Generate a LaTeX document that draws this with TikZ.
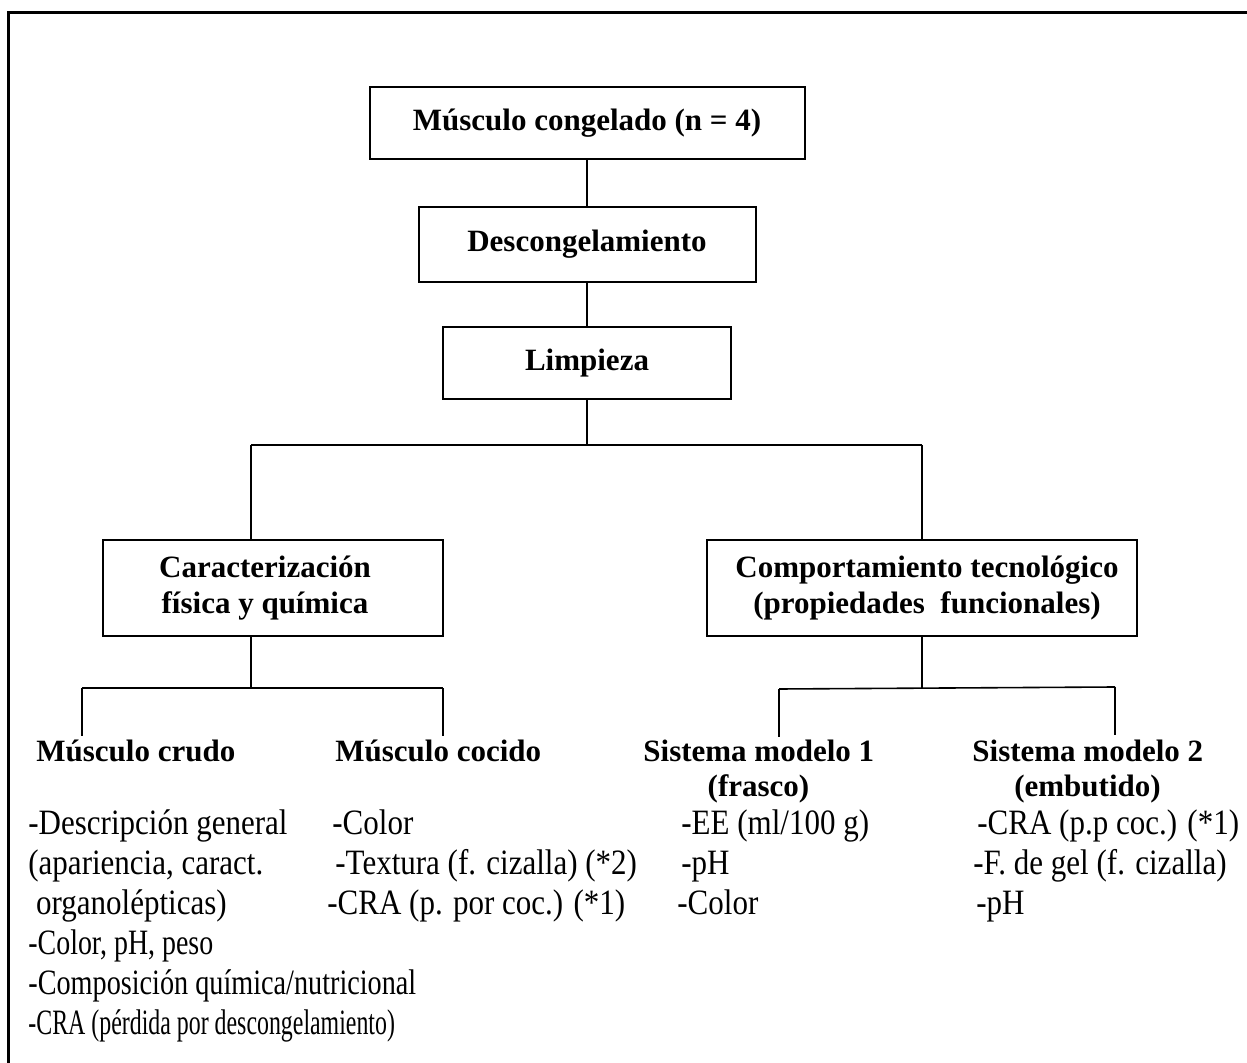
\documentclass[tikz,border=0pt]{standalone}
\usepackage{graphicx}
\usepackage{fontspec}
\setmainfont{Liberation Serif}
\newcommand{\bt}[2][1]{\scalebox{#1}[1.15]{#2}}
\begin{document}
\begin{tikzpicture}[x=0.5pt,y=-0.5pt,
  box/.style={draw, line width=1pt, inner sep=0pt, align=center,
    font=\fontsize{15.5pt}{18pt}\selectfont\bfseries},
  conn/.style={line width=0.8pt},
  head/.style={inner sep=0pt, anchor=base west, font=\fontsize{15.5pt}{18pt}\selectfont\bfseries},
  body/.style={inner sep=0pt, anchor=base west, font=\fontsize{15.5pt}{18pt}\selectfont}]
\useasboundingbox (0,0) rectangle (1247,1063);
% frame
\draw[line width=1.5pt] (1247,13) -- (8,13) -- (8,1063);
% boxes
\node[box, minimum width=217.5pt, minimum height=36pt] (b1) at (587,123) {Músculo congelado (n = 4)};
\node[box, minimum width=168.5pt, minimum height=37.5pt] (b2) at (587,244.5) {Descongelamiento};
\node[box, minimum width=144pt, minimum height=36pt] (b3) at (587,363) {Limpieza};
\node[box, minimum width=170pt, minimum height=48pt] (bL) at (273,588)
  {\hspace*{-8pt}Caracterización\\\hspace*{-8pt}física y química};
\node[box, minimum width=215pt, minimum height=48pt] (bR) at (922,588)
  {\hspace*{5pt}Comportamiento tecnológico\\\hspace*{5pt}(propiedades\ \ funcionales)};
% connectors
\draw[conn] (b1) -- (b2);
\draw[conn] (b2) -- (b3);
\coordinate (j1) at (587,445);
\coordinate (jL) at (251,445);
\coordinate (jR) at (922,445);
\draw[conn] (b3.south) -- (j1);
\draw[conn] (jL) -- (jR);
\draw[conn] (jL) -- (jL |- bL.north);
\draw[conn] (jR) -- (bR.north);
% lower left branch
\coordinate (kL) at (251,688);
\coordinate (kL1) at (82,688);
\coordinate (kL2) at (443,688);
\coordinate (eL1) at (82,736);
\coordinate (eL2) at (443,736);
\draw[conn] (kL |- bL.south) -- (kL);
\draw[conn] (kL1) -- (kL2);
\draw[conn] (kL1) -- (eL1);
\draw[conn] (kL2) -- (eL2);
% lower right branch
\coordinate (kR) at (922,688);
\coordinate (kR1) at (779,689);
\coordinate (kR2) at (1115,687);
\coordinate (eR1) at (779,737);
\coordinate (eR2) at (1115,735);
\draw[conn] (bR.south) -- (kR);
\draw[conn] (kR1) -- (kR2);
\draw[conn] (kR1) -- (eR1);
\draw[conn] (kR2) -- (eR2);
% headings
\node[head] (h1) at (36,761) {Músculo crudo};
\node[head] (h2) at (335,761) {Músculo cocido};
\node[head] (h3) at (643,761) {Sistema modelo 1};
\node[head, anchor=base] (h3b) at (758.5,796) {(frasco)};
\node[head] (h4) at (972,761) {Sistema modelo 2};
\node[head, anchor=base] (h4b) at (1087.5,796) {(embutido)};
% column 1
\node[body] (c1a) at (28,834) {\bt{-Descripción general}};
\node[body] (c1b) at (28,874) {\bt{(apariencia, caract.}};
\node[body] (c1c) at (28,914) {\bt{\ organolépticas)}};
\node[body] (c1d) at (28,954) {\bt[0.9]{-Color, pH, peso}};
\node[body] (c1e) at (28,994) {\bt[0.91]{-Composición química/nutricional}};
\node[body] (c1f) at (28,1034) {\bt[0.77]{-CRA (pérdida por descongelamiento)}};
% column 2
\node[body] (c2a) at (332,834) {\bt{-Color}};
\node[body] (c2b) at (335,874) {\bt{-Textura (f. cizalla) (*2)}};
\node[body] (c2c) at (327,914) {\bt{-CRA (p. por coc.) (*1)}};
% column 3
\node[body] (c3a) at (681,834) {\bt{-EE (ml/100 g)}};
\node[body] (c3b) at (681,874) {\bt{-pH}};
\node[body] (c3c) at (677,914) {\bt{-Color}};
% column 4
\node[body] (c4a) at (977,834) {\bt{-CRA (p.p coc.) (*1)}};
\node[body] (c4b) at (973,874) {\bt{-F. de gel (f. cizalla)}};
\node[body] (c4c) at (976,914) {\bt{-pH}};
\end{tikzpicture}
\end{document}
